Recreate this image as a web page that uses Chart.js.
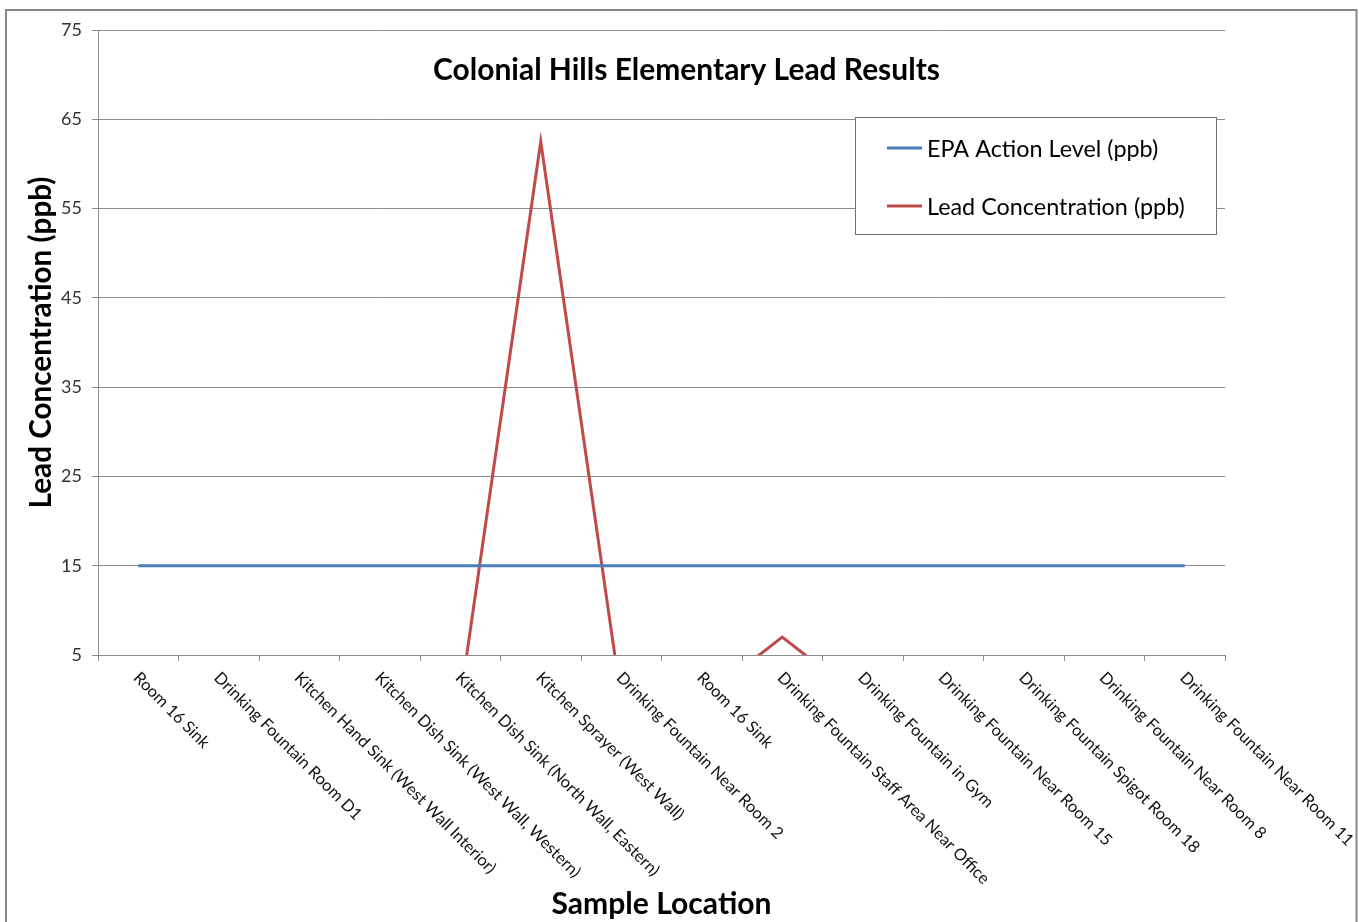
<!DOCTYPE html>
<html><head><meta charset="utf-8">
<script src="https://cdn.jsdelivr.net/npm/chart.js@4.4.1/dist/chart.umd.min.js"></script>
<style>html,body{margin:0;padding:0;background:#fff;} canvas{display:block;}</style>
</head><body>
<canvas id="c" width="1359" height="922"></canvas>
<script>
const categories = [
  "Room 16 Sink",
  "Drinking Fountain Room D1",
  "Kitchen Hand Sink (West Wall Interior)",
  "Kitchen Dish Sink (West Wall, Western)",
  "Kitchen Dish Sink (North Wall, Eastern)",
  "Kitchen Sprayer (West Wall)",
  "Drinking Fountain Near Room 2",
  "Room 16 Sink",
  "Drinking Fountain Staff Area Near Office",
  "Drinking Fountain in Gym",
  "Drinking Fountain Near Room 15",
  "Drinking Fountain Spigot Room 18",
  "Drinking Fountain Near Room 8",
  "Drinking Fountain Near Room 11"
];
const epaActionLevel = [15, 15, 15, 15, 15, 15, 15, 15, 15, 15, 15, 15, 15, 15];
const leadConcentration = [0, 0, 0, 0, 0, 62.5, 0, 0, 7, 0, 0, 0, 0, 0];
const yTicks = [5, 15, 25, 35, 45, 55, 65, 75];
const seriesNames = ["EPA Action Level (ppb)", "Lead Concentration (ppb)"];
const chartTitle = "Colonial Hills Elementary Lead Results";
const xTitle = "Sample Location";
const yTitle = "Lead Concentration (ppb)";

const FONT = 'Lato, "Liberation Sans", sans-serif';
const BLUE = '#4A7EBB';
const RED = '#BE4B48';
const GRID = '#8C8C8C';

function fitSize(ctx, text, weight, target) {
  ctx.font = weight + ' 100px ' + FONT;
  return 100 * target / ctx.measureText(text).width;
}

const overlay = {
  id: 'overlay',
  beforeDraw(chart) {
    const ctx = chart.ctx;
    ctx.save();
    ctx.fillStyle = '#fff';
    ctx.fillRect(0, 0, chart.width, chart.height);
    ctx.strokeStyle = '#868686';
    ctx.lineWidth = 2;
    ctx.strokeRect(6, 10, 1350.5, 1000);
    ctx.restore();
  },
  afterDatasetsDraw(chart) {
    const ctx = chart.ctx;
    const xs = chart.scales.x;
    const area = chart.chartArea;
    ctx.save();
    // title
    let s = fitSize(ctx, chartTitle, 'bold', 507);
    ctx.font = 'bold ' + s + 'px ' + FONT;
    ctx.fillStyle = '#000';
    ctx.textAlign = 'center';
    ctx.textBaseline = 'alphabetic';
    ctx.fillText(chartTitle, 686.5, 80);

    // legend
    ctx.fillStyle = '#fff';
    ctx.fillRect(855.5, 117.5, 361, 117);
    ctx.strokeStyle = '#6f6f6f';
    ctx.lineWidth = 1;
    ctx.strokeRect(855.5, 117.5, 361, 117);
    const ds = chart.data.datasets;
    s = fitSize(ctx, seriesNames[1], 'normal', 258);
    ctx.font = s + 'px ' + FONT;
    ctx.textAlign = 'left';
    ctx.textBaseline = 'middle';
    const ly = [148, 206];
    ds.forEach((d, i) => {
      ctx.strokeStyle = d.borderColor;
      ctx.lineWidth = 3;
      ctx.beginPath();
      ctx.moveTo(887, ly[i]);
      ctx.lineTo(922, ly[i]);
      ctx.stroke();
      ctx.fillStyle = '#000';
      ctx.fillText(d.label, 927, ly[i] + 1);
    });

    // x labels
    s = fitSize(ctx, categories[8], 'normal', 292);
    ctx.font = s + 'px ' + FONT;
    ctx.fillStyle = '#111';
    ctx.textAlign = 'left';
    ctx.textBaseline = 'middle';
    categories.forEach((c, i) => {
      const x = xs.getPixelForValue(i);
      ctx.save();
      ctx.translate(x - 2, area.bottom + 20);
      ctx.rotate(Math.PI / 4);
      ctx.fillText(c, 0, 0);
      ctx.restore();
    });

    // x title
    s = fitSize(ctx, xTitle, 'bold', 220);
    ctx.font = 'bold ' + s + 'px ' + FONT;
    ctx.fillStyle = '#000';
    ctx.textAlign = 'center';
    ctx.textBaseline = 'alphabetic';
    ctx.fillText(xTitle, (area.left + area.right) / 2, 914);

    // y title
    s = fitSize(ctx, yTitle, 'bold', 332);
    ctx.font = 'bold ' + s + 'px ' + FONT;
    ctx.save();
    ctx.translate(41, (area.top + area.bottom) / 2);
    ctx.rotate(-Math.PI / 2);
    ctx.textAlign = 'center';
    ctx.textBaseline = 'middle';
    ctx.fillText(yTitle, 0, 0);
    ctx.restore();
    ctx.restore();
  }
};

new Chart(document.getElementById('c'), {
  type: 'line',
  data: {
    labels: categories,
    datasets: [
      { label: seriesNames[0], data: epaActionLevel, borderColor: BLUE, backgroundColor: BLUE,
        borderWidth: 3, pointRadius: 0, tension: 0, clip: 0, borderJoinStyle: 'miter' },
      { label: seriesNames[1], data: leadConcentration, borderColor: RED, backgroundColor: RED,
        borderWidth: 3, pointRadius: 0, tension: 0, clip: 0, borderJoinStyle: 'miter' }
    ]
  },
  options: {
    responsive: false,
    animation: false,
    events: [],
    layout: { padding: { left: 0, top: 30, right: 134, bottom: 0 } },
    plugins: { legend: { display: false }, title: { display: false }, tooltip: { enabled: false } },
    scales: {
      x: {
        type: 'category',
        offset: true,
        grid: { offset: true, drawOnChartArea: false, drawTicks: true, tickLength: 6, color: GRID },
        border: { display: true, color: GRID, width: 1 },
        ticks: { display: false },
        afterFit(scale) { scale.height = 267; }
      },
      y: {
        min: 5, max: 75,
        afterBuildTicks(scale) { scale.ticks = yTicks.map(v => ({ value: v })); },
        grid: { color: GRID, tickLength: 6, drawTicks: true },
        border: { display: true, color: GRID, width: 1 },
        ticks: { padding: 10, color: '#333', font: { family: FONT, size: 18 } },
        afterFit(scale) { scale.width = 98; }
      }
    }
  },
  plugins: [overlay]
});
</script>
</body></html>
